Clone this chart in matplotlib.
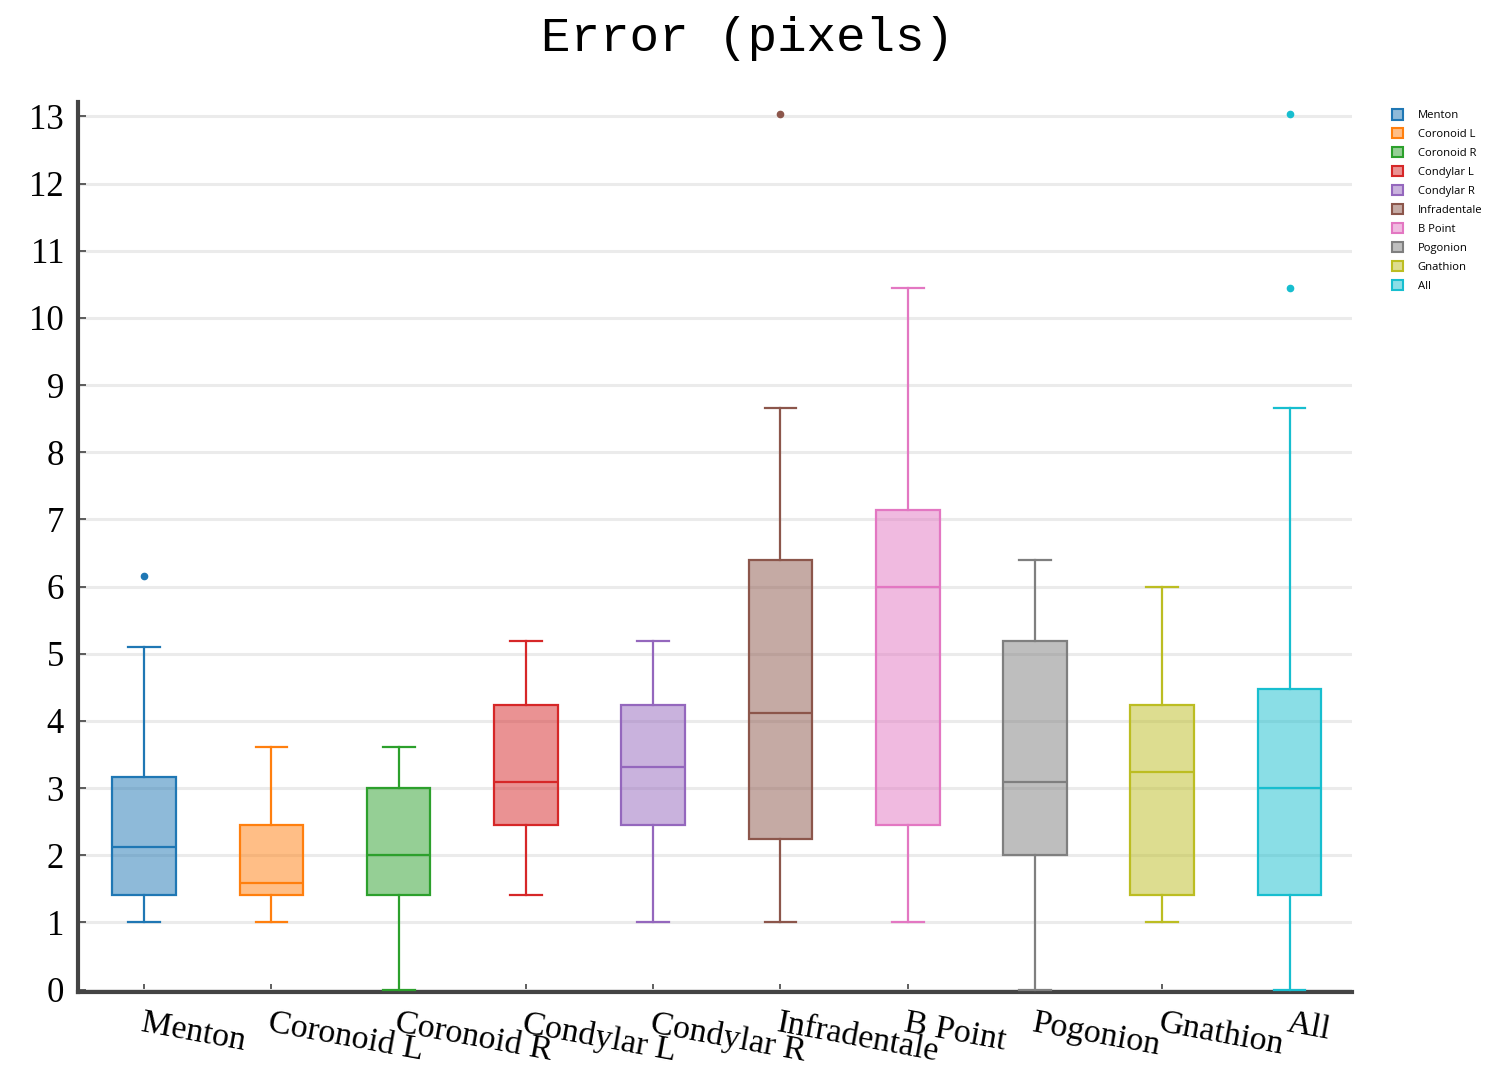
import matplotlib
matplotlib.use("Agg")
import matplotlib.pyplot as plt
from matplotlib.patches import Patch

categories = ["Menton", "Coronoid L", "Coronoid R", "Condylar L", "Condylar R",
              "Infradentale", "B Point", "Pogonion", "Gnathion", "All"]
lower_whisker = [1.00, 1.00, 0.00, 1.414, 1.00, 1.00, 1.00, 0.00, 1.00, 0.00]
q1 = [1.414, 1.414, 1.414, 2.449, 2.449, 2.236, 2.449, 2.00, 1.414, 1.414]
median = [2.121, 1.58, 2.00, 3.09, 3.317, 4.123, 6.00, 3.09, 3.24, 3.00]
q3 = [3.162, 2.449, 3.00, 4.243, 4.243, 6.403, 7.141, 5.196, 4.243, 4.472]
upper_whisker = [5.099, 3.606, 3.606, 5.196, 5.196, 8.660, 10.440, 6.403, 6.00, 8.660]
outliers = [[6.164], [], [], [], [], [13.038], [], [], [], [10.440, 13.038]]
colors = ["#1f77b4", "#ff7f0e", "#2ca02c", "#d62728", "#9467bd",
          "#8c564b", "#e377c2", "#7f7f7f", "#bcbd22", "#17becf"]
yticks = list(range(0, 14))

fig = plt.figure(figsize=(15.05, 10.68), dpi=100)
ax = fig.add_axes([0.0518, 0.0715, 0.8465, 0.8334])

for i, cat in enumerate(categories):
    stats = [dict(med=median[i], q1=q1[i], q3=q3[i], whislo=lower_whisker[i],
                  whishi=upper_whisker[i], fliers=outliers[i], label=cat)]
    c = colors[i]
    ax.bxp(stats, positions=[i], widths=0.5, patch_artist=True, showfliers=True,
           boxprops=dict(facecolor=matplotlib.colors.to_rgba(c, 0.5), edgecolor=c, linewidth=1.6),
           medianprops=dict(color=c, linewidth=1.6),
           whiskerprops=dict(color=c, linewidth=1.6),
           capprops=dict(color=c, linewidth=1.6),
           capwidths=0.25,
           flierprops=dict(marker="o", markersize=4.5, markerfacecolor=c,
                           markeredgecolor=c, linestyle="none"),
           zorder=3)

ax.set_xlim(-0.52, 9.49)
ax.set_ylim(-0.03, 13.22)
ax.set_yticks(yticks)
ax.set_yticklabels([str(t) for t in yticks], fontfamily="Liberation Serif", fontsize=25)
ax.set_xticks(range(len(categories)))
ax.set_xticklabels(categories, fontfamily="Liberation Serif", fontsize=24.5,
                   rotation=-10.5, ha="left", va="top", rotation_mode="anchor")
ax.tick_params(axis="both", direction="in", length=6, width=1.2, color="#444444")
ax.tick_params(axis="x", pad=12)
ax.tick_params(axis="y", pad=10)

ax.grid(axis="y", color="#ebebeb", linewidth=2.2, zorder=0)
ax.set_axisbelow(True)
for s in ["top", "right"]:
    ax.spines[s].set_visible(False)
for s in ["left", "bottom"]:
    ax.spines[s].set_color("#444444")
    ax.spines[s].set_linewidth(3)

fig.text(0.497, 0.964, "Error (pixels)", fontfamily="Liberation Mono", fontsize=35.5,
         ha="center", va="center")

handles = [Patch(facecolor=matplotlib.colors.to_rgba(c, 0.5), edgecolor=c, linewidth=1.5, label=cat)
           for c, cat in zip(colors, categories)]
leg = fig.legend(handles=handles, loc="upper left", bbox_to_anchor=(0.918, 0.907),
                 frameon=False, prop=dict(family="Open Sans", size=8.1),
                 handlelength=1.0, handleheight=1.0, handletextpad=1.3, labelspacing=0.63)

fig.savefig("out.png", dpi=100)
